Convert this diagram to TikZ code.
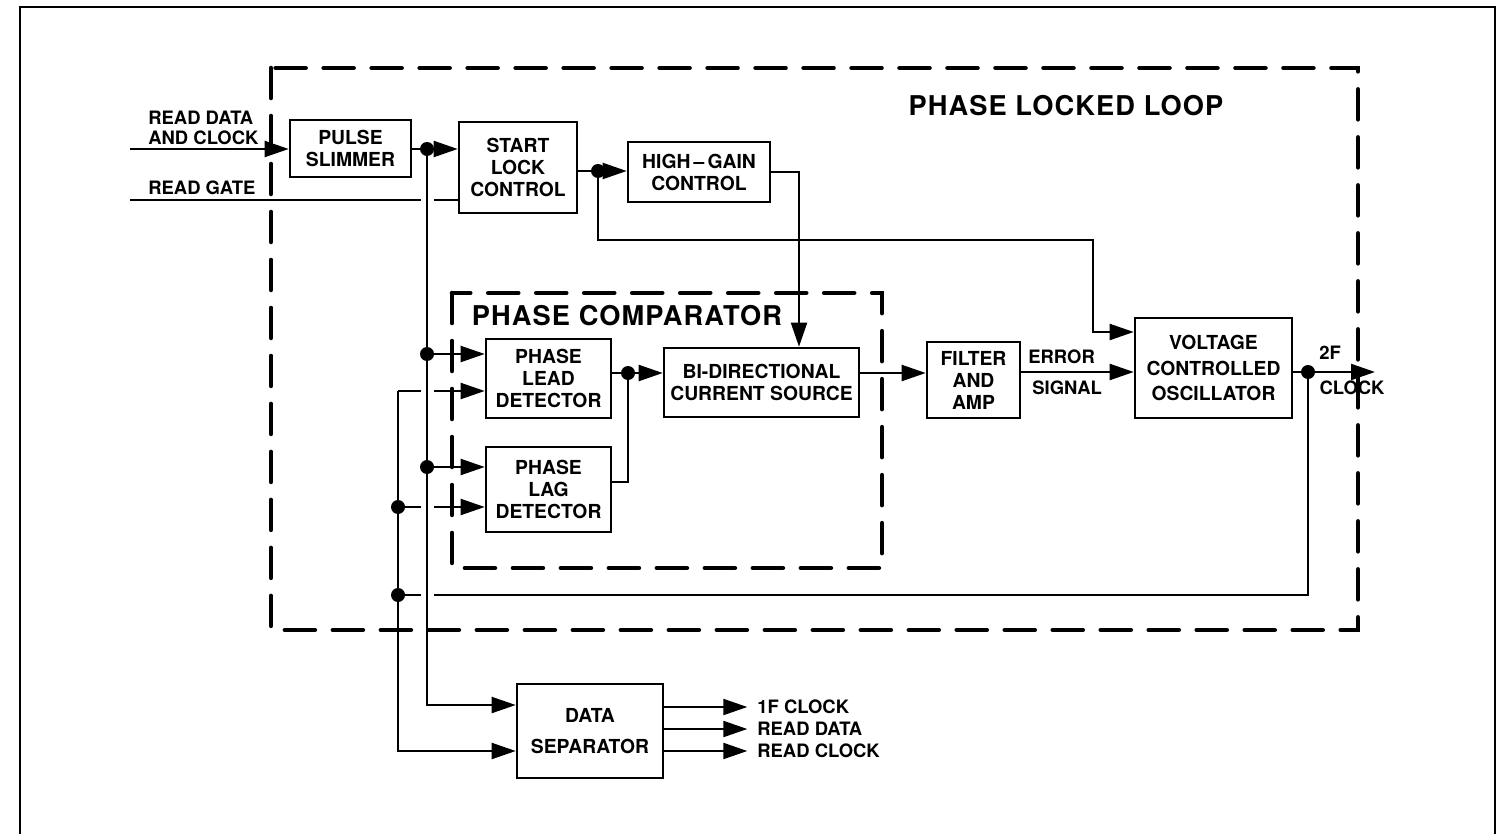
\documentclass[tikz,border=0pt]{standalone}
\usepackage{fontspec}
\setmainfont{TeX Gyre Heros}
\usetikzlibrary{arrows.meta}

\tikzset{
  blk/.style={draw, line width=1.5pt, rectangle, align=center, inner sep=0pt,
    font=\fontsize{11}{12.5}\selectfont\bfseries},
  lbl/.style={inner sep=0pt, align=left, font=\fontsize{10.5}{11.5}\selectfont\bfseries},
  ttl/.style={inner sep=0pt, font=\fontsize{15.5}{18}\selectfont\bfseries\addfontfeatures{LetterSpace=4}},
  wire/.style={line width=1.2pt},
  sig/.style={wire, -{Triangle[length=0.48cm,width=0.32cm]}},
  bound/.style={line width=2.6pt, dash pattern=on 0.6cm off 0.36cm, line cap=round},
}

\begin{document}
\begin{tikzpicture}[x=0.02cm, y=-0.02cm]
\useasboundingbox (0,0) rectangle (1496,834);
% page frame, open at the bottom
\draw[line width=0.8pt] (20,834) -- (20,7) -- (1495,7) -- (1495,834);
% dashed boundaries
\draw[bound] (271,68) rectangle (1358,630);
\draw[bound] (452,293) rectangle (882,568);
\node[ttl] (pll) at (1066,106) {PHASE LOCKED LOOP};
\node[ttl] (pcmp) at (627,316) {PHASE COMPARATOR};
% blocks
\node[blk, minimum width=2.42cm, minimum height=1.14cm] (slim) at (350.5,148.5) {PULSE\\SLIMMER};
\node[blk, minimum width=2.36cm, minimum height=1.82cm] (slc) at (518,167.5) {START\\LOCK\\CONTROL};
\node[blk, minimum width=2.84cm, minimum height=1.20cm] (hgc) at (699,172) {HIGH\,--\,GAIN\\CONTROL};
\node[blk, minimum width=2.50cm, minimum height=1.58cm] (lead) at (548.5,378.5) {PHASE\\LEAD\\DETECTOR};
\node[blk, minimum width=2.50cm, minimum height=1.70cm] (lag) at (548.5,489.5) {PHASE\\LAG\\DETECTOR};
\node[blk, minimum width=3.90cm, minimum height=1.38cm] (bidir) at (761.5,382.5) {BI-DIRECTIONAL\\CURRENT SOURCE};
\node[blk, minimum width=1.86cm, minimum height=1.52cm] (filt) at (973.5,380) {FILTER\\AND\\AMP};
\node[blk, minimum width=3.14cm, minimum height=2.00cm] (vco) at (1213.5,368) {VOLTAGE\\[2pt]CONTROLLED\\[2pt]OSCILLATOR};
\node[blk, minimum width=2.92cm, minimum height=1.88cm] (dsep) at (590,731) {DATA\\[5pt]SEPARATOR};
% labels
\node[lbl, anchor=west] (rdlbl) at (148,128) {READ DATA\\AND CLOCK};
\node[lbl, anchor=west] (rglbl) at (148,188) {READ GATE};
\node[lbl, anchor=west] (errlbl) at (1028,357) {ERROR};
\node[lbl, anchor=west] (siglbl) at (1032,388) {SIGNAL};
\node[lbl] (twof) at (1330,353) {2F};
\node[lbl] (clklbl) at (1352,388) {CLOCK};
% junctions
\coordinate (rdin) at (130,149);
\coordinate (rgin) at (130,200);
\coordinate (j1) at (427,149);
\coordinate (j1a) at (427,354);
\coordinate (j1b) at (427,467);
\coordinate (k0) at (398,391);
\coordinate (k1) at (398,507);
\coordinate (k2) at (398,595);
\coordinate (j2) at (598,171);
\coordinate (bend) at (1093,240);
\coordinate (j3) at (628,373);
\coordinate (j4) at (1308,372);
\coordinate (clkout) at (1375,372);
% inputs
\draw[sig] (rdin) -- (slim.west |- rdin);
\draw[wire] (rgin) -- ([xshift=-0.12cm]j1 |- rgin);
\draw[wire] ([xshift=0.14cm]j1 |- rgin) -- (slc.west |- rgin);
% data and clock bus
\draw[wire] (slim.east |- j1) -- (j1);
\draw[sig] (j1) -- (slc.west |- j1);
\draw[sig] (j1) |- ([yshift=0.52cm]dsep.west);
\draw[sig] (j1a) -- (lead.west |- j1a);
\draw[sig] (j1b) -- (lag.west |- j1b);
% 2F clock return bus
\draw[sig] (k0) |- ([yshift=-0.4cm]dsep.west);
\draw[wire] (k0) -- ([xshift=-0.12cm]j1 |- k0);
\draw[sig] ([xshift=0.14cm]j1 |- k0) -- (lead.west |- k0);
\draw[wire] (k1) -- ([xshift=-0.12cm]j1 |- k1);
\draw[sig] ([xshift=0.14cm]j1 |- k1) -- (lag.west |- k1);
\draw[wire] (k2) -- ([xshift=-0.12cm]j1 |- k2);
\draw[wire] ([xshift=0.14cm]j1 |- k2) -| (j4);
% start lock and high gain
\draw[wire] (slc.east |- j2) -- (j2);
\draw[sig] (j2) -- (hgc.west |- j2);
\draw[sig] (j2) |- (bend) |- ([yshift=0.72cm]vco.west);
\draw[sig] (hgc.east) -| ([xshift=0.75cm]bidir.north);
% comparator to oscillator
\draw[wire] (lead.east |- j3) -- (j3);
\draw[wire] ([yshift=0.15cm]lag.east) -| (j3);
\draw[sig] (j3) -- (bidir.west |- j3);
\draw[sig] (bidir.east |- j3) -- (filt.west |- j3);
\draw[sig] (filt.east |- j4) -- (vco.west |- j4);
\draw[wire] (vco.east |- j4) -- (j4);
\draw[sig] (j4) -- (clkout);
% data separator outputs
\foreach \dy/\txt in {0.48/1F CLOCK, 0.04/READ DATA, -0.40/READ CLOCK}
  \draw[sig] ([yshift=\dy cm]dsep.east) -- ++(83,0)
    node[lbl, anchor=west, xshift=0.18cm] {\txt};
% dots
\foreach \p in {j1,j1a,j1b,j2,j3,j4,k1,k2}
  \fill (\p) circle (0.14cm);
\end{tikzpicture}
\end{document}
